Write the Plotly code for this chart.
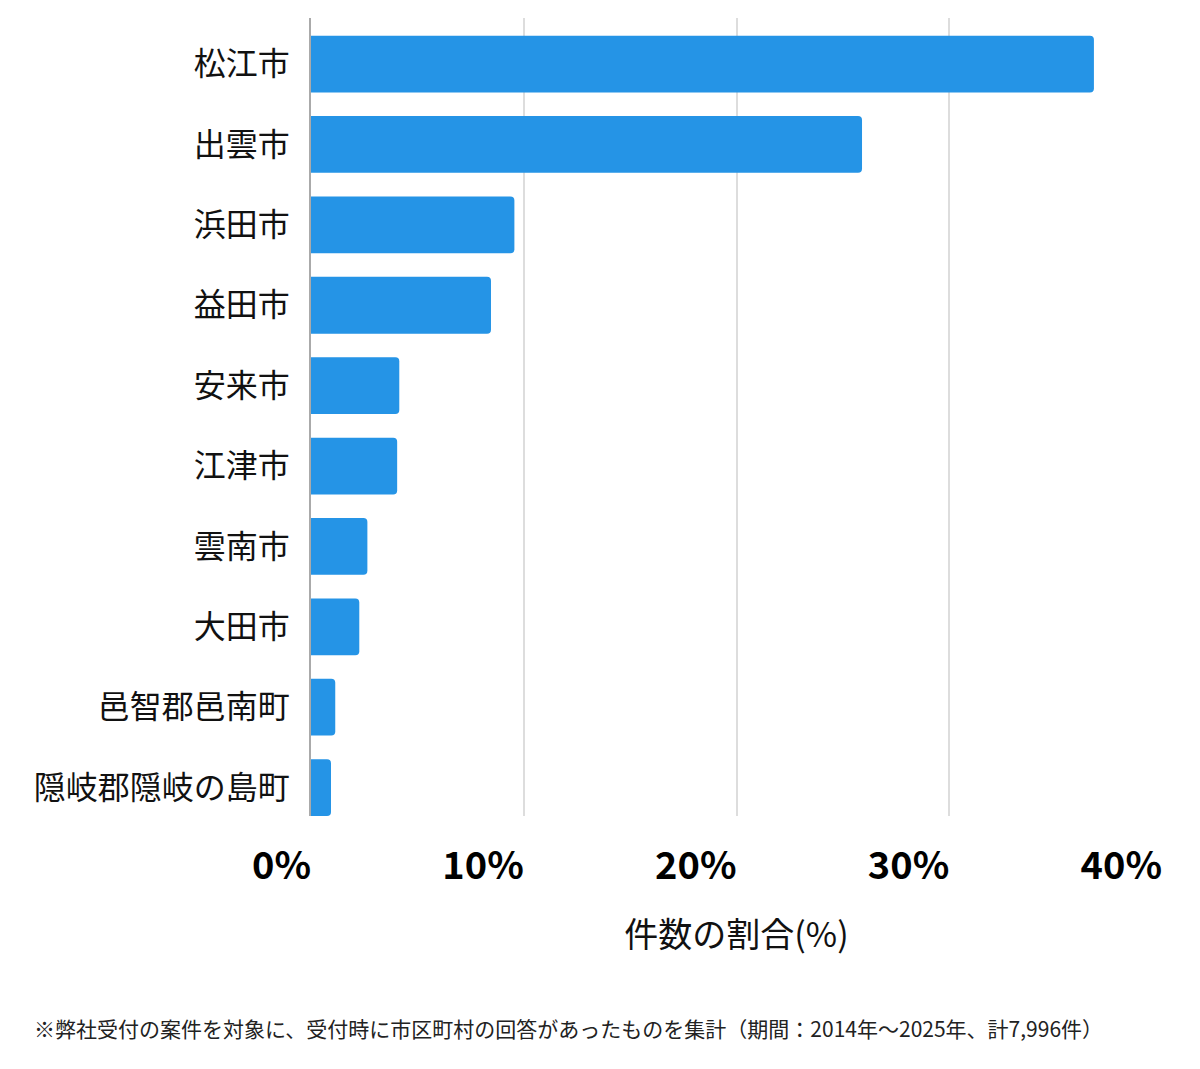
import plotly.graph_objects as go

categories = ["松江市", "出雲市", "浜田市", "益田市", "安来市", "江津市", "雲南市", "大田市", "邑智郡邑南町", "隠岐郡隠岐の島町"]
shares = [36.8, 25.9, 9.56, 8.46, 4.15, 4.05, 2.65, 2.27, 1.14, 0.94]
tick_values = [0, 10, 20, 30, 40]
tick_labels = ["0%", "10%", "20%", "30%", "40%"]
x_title = "件数の割合(%)"
footnote = "※弊社受付の案件を対象に、受付時に市区町村の回答があったものを集計（期間：2014年～2025年、計7,996件）"

FONT = "Noto Sans CJK JP"

fig = go.Figure(
    go.Bar(
        x=shares,
        y=list(range(len(categories))),
        orientation="h",
        width=0.706,
        marker=dict(color="#2594e6", cornerradius=4, line=dict(width=0)),
        hoverinfo="skip",
    )
)

fig.update_layout(
    width=1200,
    height=1069,
    margin=dict(l=311, r=38, t=18, b=253),
    plot_bgcolor="white",
    paper_bgcolor="white",
    showlegend=False,
    font=dict(family=FONT, color="#111111"),
)

fig.update_xaxes(
    range=[0, 40],
    tickvals=tick_values,
    ticktext=tick_labels,
    tickfont=dict(family=FONT, size=38, color="#000000", weight="bold"),
    ticklabelposition="outside left",
    ticklabelstandoff=24,
    showgrid=True,
    gridcolor="#dddddd",
    gridwidth=1.5,
    zeroline=False,
    showline=False,
    ticks="",
    title=dict(text=x_title, font=dict(family=FONT, size=34, color="#111111"), standoff=34),
)

fig.update_yaxes(
    range=[9.353, -0.573],
    tickvals=list(range(len(categories))),
    ticktext=categories,
    tickfont=dict(family=FONT, size=32, color="#111111"),
    ticklabelstandoff=13,
    showgrid=False,
    zeroline=False,
    showline=True,
    linecolor="#aaaaaa",
    linewidth=1.5,
    ticks="",
)

fig.add_annotation(
    text=footnote,
    xref="paper", yref="paper",
    x=(32 - 311) / 851, y=(816 - 1028) / 798,
    xanchor="left", yanchor="middle",
    showarrow=False,
    font=dict(family=FONT, size=21, color="#222222"),
)

fig.write_html("out.html")
